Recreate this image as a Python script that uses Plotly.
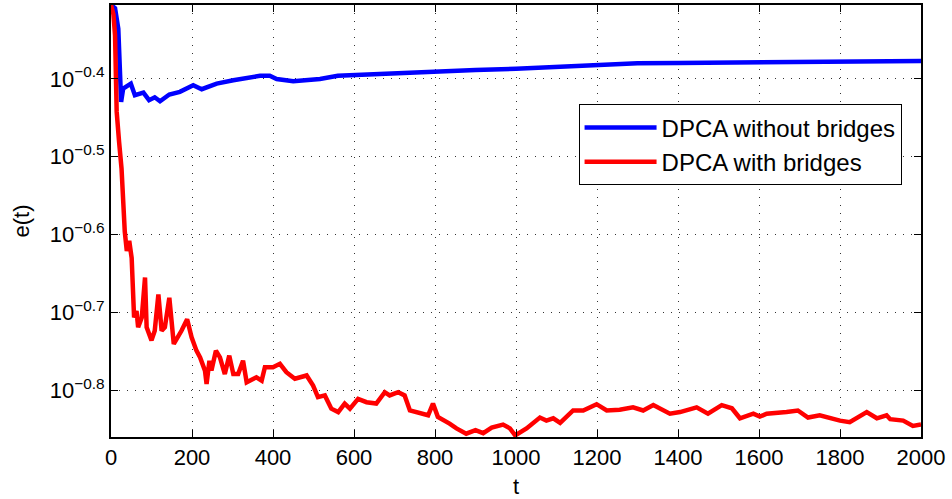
import numpy as np
import plotly.graph_objects as go

# Iteration index t and error e(t) for each method
t_without = [0, 10, 18, 25, 30, 49, 59, 80, 94, 108, 121, 144, 170, 203, 224, 261, 302,
             335, 368, 392, 409, 450, 516, 560, 598, 700, 800, 900, 1000, 1100, 1199,
             1300, 1400, 1500, 1602, 1700, 1800, 1900, 2000]
e_without = [0.4955, 0.4909, 0.4618, 0.3720, 0.3869, 0.3926, 0.3795, 0.3824, 0.3739,
             0.3771, 0.3727, 0.3802, 0.3832, 0.3908, 0.3862, 0.3926, 0.3965, 0.3993,
             0.4018, 0.4018, 0.3981, 0.3954, 0.3981, 0.4018, 0.4027, 0.4046, 0.4074,
             0.4088, 0.4102, 0.4124, 0.4145, 0.4169, 0.4174, 0.4178, 0.4188, 0.4192,
             0.4194, 0.4198, 0.4198]

t_with = [0, 6, 10, 14, 20, 26, 34, 39, 45, 51, 57, 63, 67, 76, 84, 88, 100, 108, 117,
          125, 133, 144, 155, 166, 174, 188, 199, 211, 220, 232, 236, 243, 248, 259, 269,
          281, 292, 302, 314, 326, 335, 359, 372, 380, 400, 417, 433, 454, 483, 499, 511,
          528, 544, 561, 577, 590, 610, 631, 655, 676, 688, 709, 725, 738, 762, 783, 795,
          807, 836, 853, 877, 886, 900, 919, 940, 968, 985, 998, 1026, 1059, 1075, 1092,
          1109, 1141, 1166, 1199, 1224, 1256, 1289, 1314, 1339, 1380, 1405, 1446, 1474,
          1508, 1533, 1553, 1586, 1602, 1619, 1668, 1696, 1721, 1750, 1800, 1824, 1866,
          1891, 1915, 1924, 1956, 1980, 2000]
e_with = [0.4955, 0.4819, 0.4529, 0.3614, 0.3304, 0.3055, 0.2535, 0.2393, 0.2466, 0.2344,
          0.1966, 0.2004, 0.1910, 0.1966, 0.2213, 0.1910, 0.1837, 0.1890, 0.2105, 0.1890,
          0.1910, 0.2084, 0.1818, 0.1854, 0.1890, 0.1956, 0.1854, 0.1782, 0.1747, 0.1680,
          0.1615, 0.1730, 0.1680, 0.1782, 0.1747, 0.1663, 0.1756, 0.1663, 0.1663, 0.1730,
          0.1623, 0.1647, 0.1631, 0.1697, 0.1697, 0.1714, 0.1672, 0.1640, 0.1656, 0.1607,
          0.1553, 0.1561, 0.1501, 0.1486, 0.1524, 0.1501, 0.1545, 0.1530, 0.1524, 0.1576,
          0.1561, 0.1576, 0.1561, 0.1493, 0.1479, 0.1472, 0.1524, 0.1465, 0.1436, 0.1416,
          0.1394, 0.1400, 0.1409, 0.1396, 0.1419, 0.1432, 0.1416, 0.1387, 0.1416, 0.1462,
          0.1449, 0.1459, 0.1439, 0.1493, 0.1493, 0.1521, 0.1493, 0.1496, 0.1507, 0.1493,
          0.1517, 0.1479, 0.1486, 0.1507, 0.1479, 0.1517, 0.1503, 0.1459, 0.1479, 0.1466,
          0.1479, 0.1486, 0.1493, 0.1462, 0.1472, 0.1449, 0.1442, 0.1486, 0.1459, 0.1472,
          0.1455, 0.1449, 0.1426, 0.1432]

x_ticks = [0, 200, 400, 600, 800, 1000, 1200, 1400, 1600, 1800, 2000]
y_exponents = [-0.4, -0.5, -0.6, -0.7, -0.8]

FONT = "Liberation Sans, Arial, sans-serif"

fig = go.Figure()
fig.add_trace(go.Scatter(x=t_without, y=e_without, mode="lines",
                         name="DPCA without bridges",
                         line=dict(color="#0000ff", width=4.5)))
fig.add_trace(go.Scatter(x=t_with, y=e_with, mode="lines",
                         name="DPCA with bridges",
                         line=dict(color="#ff0000", width=4.5)))

grid_dash = "1px,7px"
fig.update_xaxes(
    range=[0, 2000], tickvals=x_ticks, ticktext=[str(v) for v in x_ticks],
    showline=True, linecolor="black", linewidth=2, mirror="ticks",
    ticks="inside", ticklen=7, tickwidth=1, tickcolor="black",
    showgrid=True, gridcolor="#333333", gridwidth=1, griddash=grid_dash,
    zeroline=False,
    tickfont=dict(family=FONT, size=22, color="black"),
    title=dict(text="t", font=dict(family=FONT, size=22, color="black"), standoff=10),
)
fig.update_yaxes(
    type="log", range=[-0.860, -0.305],
    tickvals=[10 ** p for p in y_exponents],
    ticktext=["10<sup>\u2212%.1f</sup>" % abs(p) for p in y_exponents],
    showline=True, linecolor="black", linewidth=2, mirror="ticks",
    ticks="inside", ticklen=7, tickwidth=1, tickcolor="black",
    showgrid=True, gridcolor="#333333", gridwidth=1, griddash=grid_dash,
    zeroline=False,
    tickfont=dict(family=FONT, size=22, color="black"),
    title=dict(text="e(t)", font=dict(family=FONT, size=22, color="black"), standoff=14),
)

fig.update_layout(
    width=952, height=499,
    margin=dict(l=111, r=31, t=3, b=62),
    paper_bgcolor="white", plot_bgcolor="white",
    showlegend=True,
    legend=dict(
        x=0.976, y=0.77, xanchor="right", yanchor="top",
        bgcolor="white", bordercolor="black", borderwidth=1,
        font=dict(family=FONT, size=24, color="black"),
        itemwidth=72, tracegroupgap=0,
    ),
)

fig.write_html("out.html")
